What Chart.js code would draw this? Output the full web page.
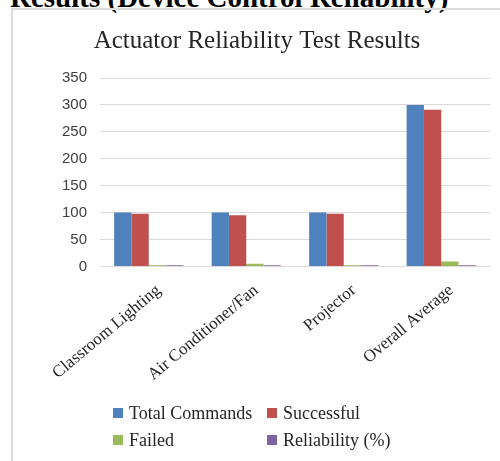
<!DOCTYPE html>
<html>
<head>
<meta charset="utf-8">
<script src="https://cdn.jsdelivr.net/npm/chart.js@4"></script>
<style>
  html, body { margin: 0; padding: 0; background: #fff; }
  body { width: 500px; height: 461px; overflow: hidden; position: relative; }
  #heading {
    position: absolute; left: 10px; top: -17px;
    font: bold 29px "Liberation Serif", "Times New Roman", serif;
    line-height: 29px; color: #000; white-space: nowrap;
  }
  #frame {
    position: absolute; left: 11px; top: 8px; width: 520px; height: 480px;
    border-left: 2px solid #dcdcdc; border-top: 2px solid #dcdcdc;
  }
  #wrap { position: absolute; left: 0; top: 0; width: 500px; height: 461px; }
  #legend {
    position: absolute; left: 113px; top: 402px;
    display: grid; grid-template-columns: 154px 150px; row-gap: 5px;
    font: 18px "Liberation Serif", "Times New Roman", serif; color: #262626;
    line-height: 22px;
  }
  #legend div { display: flex; align-items: center; white-space: nowrap; }
  #legend span.box { display: inline-block; width: 10px; height: 10px; margin-right: 6px; }
</style>
</head>
<body>
<div id="heading">Results (Device Control Reliability)</div>
<div id="frame"></div>
<div id="wrap"><canvas id="c" width="500" height="461"></canvas></div>
<div id="legend"></div>
<script>
const categories = ["Classroom Lighting", "Air Conditioner/Fan", "Projector", "Overall Average"];
const totalCommands = [100, 100, 100, 300];
const successful = [98, 95, 98, 291];
const failed = [2, 5, 2, 9];
const reliability = [2, 2, 2, 2];
const yTicks = [0, 50, 100, 150, 200, 250, 300, 350];

const seriesNames = ["Total Commands", "Successful", "Failed", "Reliability (%)"];
const seriesColors = ["#4f81bd", "#c0504d", "#9bbb59", "#8064a2"];
const seriesValues = [totalCommands, successful, failed, reliability];

const chart = new Chart(document.getElementById("c"), {
  type: "bar",
  data: {
    labels: categories,
    datasets: seriesNames.map((name, i) => ({
      label: name,
      data: seriesValues[i],
      backgroundColor: seriesColors[i],
      borderWidth: 0,
      categoryPercentage: 0.71,
      barPercentage: 1.0
    }))
  },
  options: {
    responsive: false,
    animation: false,
    devicePixelRatio: 1,
    layout: { padding: { left: 24, right: 10, top: 0, bottom: 62 } },
    plugins: {
      legend: { display: false },
      tooltip: { enabled: false },
      title: {
        display: true,
        text: "Actuator Reliability Test Results",
        color: "#262626",
        font: { family: "'Liberation Serif', 'Times New Roman', serif", size: 25, weight: "normal" },
        padding: { top: 26, bottom: 22 }
      }
    },
    scales: {
      x: {
        grid: { display: false, drawTicks: false },
        border: { display: true, color: "#d9d9d9", width: 1 },
        ticks: {
          color: "#262626",
          font: { family: "'Liberation Serif', 'Times New Roman', serif", size: 17 },
          minRotation: 40, maxRotation: 40,
          labelOffset: 10,
          padding: 14
        }
      },
      y: {
        min: 0, max: 350,
        afterFit: (s) => { s.width = 76; },
        afterBuildTicks: (s) => { s.ticks = yTicks.map(v => ({ value: v })); },
        grid: { color: "#d9d9d9", drawTicks: false },
        border: { display: false },
        ticks: {
          color: "#404040",
          font: { family: "'Liberation Sans', Arial, sans-serif", size: 15 },
          padding: 13
        }
      }
    }
  }
});

// Legend built from the chart's own datasets, laid out in two columns
const legendEl = document.getElementById("legend");
chart.data.datasets.forEach(ds => {
  const item = document.createElement("div");
  const box = document.createElement("span");
  box.className = "box";
  box.style.background = ds.backgroundColor;
  item.appendChild(box);
  item.appendChild(document.createTextNode(ds.label));
  legendEl.appendChild(item);
});
</script>
</body>
</html>
